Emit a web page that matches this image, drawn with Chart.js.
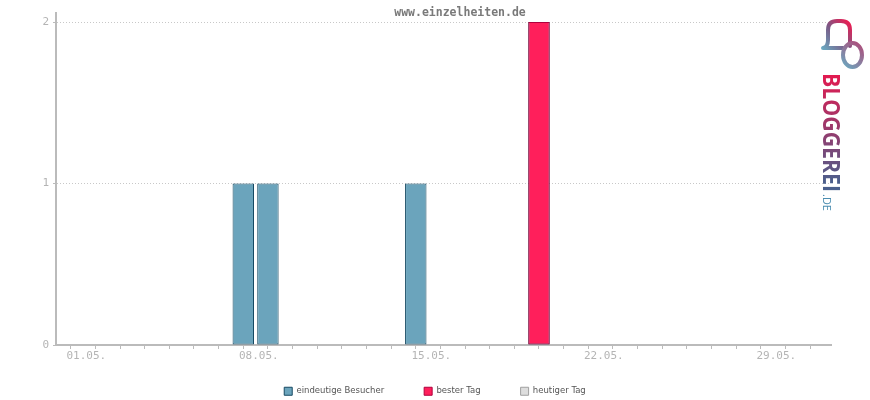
<!DOCTYPE html>
<html>
<head>
<meta charset="utf-8">
<script src="https://cdn.jsdelivr.net/npm/chart.js@4/dist/chart.umd.min.js"></script>
<style>
  html, body { margin: 0; padding: 0; background: #ffffff; }
  #wrap { width: 870px; height: 400px; }
</style>
</head>
<body>
<div id="wrap"><canvas id="c" width="870" height="400"></canvas></div>
<script>
// ---- data ----
const days = ['01.05.','02.05.','03.05.','04.05.','05.05.','06.05.','07.05.','08.05.','09.05.','10.05.',
              '11.05.','12.05.','13.05.','14.05.','15.05.','16.05.','17.05.','18.05.','19.05.','20.05.',
              '21.05.','22.05.','23.05.','24.05.','25.05.','26.05.','27.05.','28.05.','29.05.','30.05.','31.05.'];
const visitors = [0,0,0,0,0,0,0,1,1,0, 0,0,0,0,1,0,0,0,0,2, 0,0,0,0,0,0,0,0,0,0,0];
const bestDay  = [null,null,null,null,null,null,null,null,null,null, null,null,null,null,null,null,null,null,null,2, null,null,null,null,null,null,null,null,null,null,null];
const today    = [];
const yTicks   = [0, 1, 2];
const labelEvery = 7;
const titleText = 'www.einzelheiten.de';
const seriesNames = ['eindeutige Besucher', 'bester Tag', 'heutiger Tag'];

const toPoints = arr => arr.map((v, i) => ({ x: i, y: v })).filter(p => p.y !== null);

const titlePlugin = {
  id: 'customTitle',
  afterLayout(chart) {
    // lift the legend row so that it sits where the reference has it
    const lg = chart.legend;
    if (lg) { lg.top -= 15; lg.height = lg.bottom - lg.top; }
  },
  afterDraw(chart) {
    const ctx = chart.ctx;
    ctx.save();
    // y axis line continues a little above the top gridline
    const ys = chart.scales.y;
    ctx.fillStyle = '#bbbbbb';
    ctx.fillRect(Math.round(ys.right) - 1, 12, 2, chart.chartArea.top - 12);
    ctx.font = 'bold 11.5px "DejaVu Sans Mono", monospace';
    ctx.fillStyle = '#7a7a7a';
    ctx.textAlign = 'center';
    ctx.textBaseline = 'middle';
    ctx.fillText(titleText, 460, 13);
    ctx.restore();
  }
};

const logoPlugin = {
  id: 'logo',
  afterDraw(chart) {
    const ctx = chart.ctx;
    ctx.save();
    let g = ctx.createLinearGradient(822, 48, 850, 22);
    g.addColorStop(0, '#6aa8c0');
    g.addColorStop(0.5, '#7a5a86');
    g.addColorStop(1, '#ee1a50');
    ctx.strokeStyle = g;
    ctx.lineWidth = 4;
    ctx.lineCap = 'round';
    ctx.lineJoin = 'round';
    ctx.beginPath();
    ctx.moveTo(843, 48);
    ctx.lineTo(823, 48);
    ctx.quadraticCurveTo(828, 47, 828, 40);
    ctx.lineTo(828, 30);
    ctx.quadraticCurveTo(828, 21, 837, 21);
    ctx.lineTo(841, 21);
    ctx.quadraticCurveTo(850, 21, 850, 30);
    ctx.lineTo(850, 46);
    ctx.stroke();
    g = ctx.createLinearGradient(843, 67, 862, 43);
    g.addColorStop(0, '#6aa8c0');
    g.addColorStop(1, '#b04a78');
    ctx.strokeStyle = g;
    ctx.beginPath();
    ctx.ellipse(852.5, 55, 9.5, 12, 0, 0, Math.PI * 2);
    ctx.stroke();
    ctx.translate(823, 73);
    ctx.rotate(Math.PI / 2);
    g = ctx.createLinearGradient(0, 0, 119, 0);
    g.addColorStop(0, '#e5194f');
    g.addColorStop(0.5, '#9a3a6c');
    g.addColorStop(1, '#4a5f8c');
    ctx.fillStyle = g;
    ctx.font = 'bold 23px "Open Sans", "DejaVu Sans", sans-serif';
    ctx.textBaseline = 'alphabetic';
    ctx.textAlign = 'left';
    ctx.fillText('BLOGGEREI', 0, 0, 119);
    ctx.fillStyle = '#4b8db0';
    ctx.font = '11px "Open Sans", "DejaVu Sans", sans-serif';
    ctx.fillText('.DE', 121, 0);
    ctx.restore();
  }
};

new Chart(document.getElementById('c'), {
  type: 'bar',
  data: {
    datasets: [
      { label: seriesNames[0], data: toPoints(visitors), backgroundColor: '#6ba4bc', borderColor: '#174a63', order: 1 },
      { label: seriesNames[1], data: toPoints(bestDay), backgroundColor: '#ff1f5b', borderColor: '#b0003d', order: 0 },
      { label: seriesNames[2], data: today, backgroundColor: '#dddddd', borderColor: '#a0a0a0', order: 2 }
    ]
  },
  options: {
    responsive: false,
    animation: false,
    devicePixelRatio: 1,
    layout: { padding: { top: 22, left: 0, right: 0, bottom: 0 } },
    datasets: {
      bar: { grouped: false, barPercentage: 0.87, categoryPercentage: 1, borderWidth: 1, borderSkipped: false }
    },
    scales: {
      x: {
        type: 'linear',
        offset: false,
        min: -0.6,
        max: 30.85,
        afterBuildTicks: s => { s.ticks = days.map((d, i) => ({ value: i })); },
        afterFit: s => { s.height = 17; },
        grid: { display: true, offset: false, drawOnChartArea: false, drawTicks: true, tickLength: 4, tickColor: '#bbbbbb', tickWidth: 1 },
        border: { display: true, color: '#bbbbbb', width: 2 },
        ticks: {
          autoSkip: false, maxRotation: 0, minRotation: 0,
          labelOffset: 15.5, padding: 1,
          color: '#b4b4b4',
          font: { family: '"DejaVu Sans Mono", monospace', size: 11 },
          callback: v => (Number.isInteger(v) && v % labelEvery === 0) ? days[v] : ''
        }
      },
      y: {
        position: 'left',
        min: 0, max: 2,
        afterBuildTicks: s => { s.ticks = yTicks.map(v => ({ value: v })); },
        afterFit: s => { s.width = 56; },
        grid: { color: '#c8c8c8', lineWidth: 1, drawTicks: true, tickLength: 3, tickColor: '#bbbbbb', tickBorderDash: [] },
        border: { display: true, color: '#bbbbbb', width: 2, dash: [1, 2] },
        ticks: {
          padding: 4,
          color: '#b4b4b4',
          font: { family: '"DejaVu Sans Mono", monospace', size: 11 }
        }
      },
      yR: {
        position: 'right',
        display: true,
        grid: { display: false },
        border: { display: false },
        ticks: { display: false },
        afterFit: s => { s.width = 39; }
      }
    },
    plugins: {
      title: { display: false },
      tooltip: { enabled: false },
      legend: {
        display: true,
        position: 'bottom',
        maxHeight: 38,
        labels: {
          boxWidth: 8,
          boxHeight: 8,
          padding: 40,
          color: '#555555',
          font: { family: '"DejaVu Sans", sans-serif', size: 8.5 },
          sort: (a, b) => a.datasetIndex - b.datasetIndex
        }
      }
    }
  },
  plugins: [titlePlugin, logoPlugin]
});
</script>
</body>
</html>
